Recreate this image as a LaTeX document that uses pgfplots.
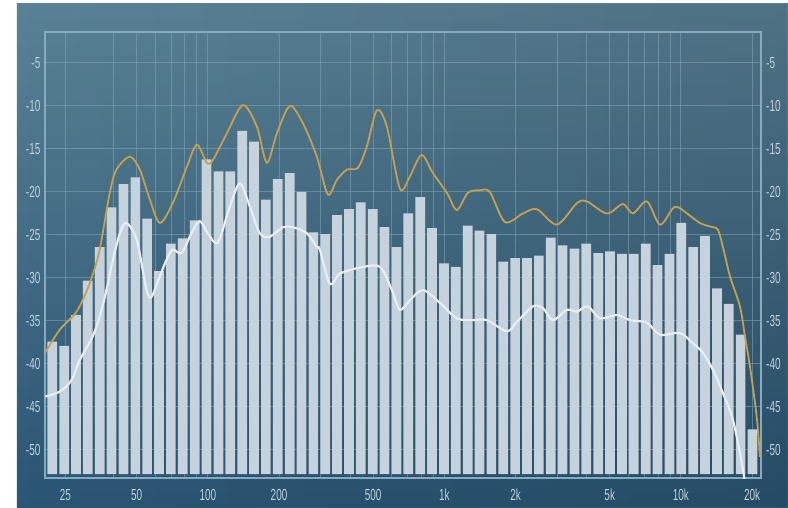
\documentclass[border=0pt]{standalone}
\usepackage{fontspec}
\usepackage{pgfplots}
\pgfplotsset{compat=1.18}
\usetikzlibrary{fadings}
\newfontfamily\lblfont{Liberation Sans}[FakeStretch=0.62]

\definecolor{bgtop}{RGB}{90,130,150}
\definecolor{bgbot}{RGB}{42,85,115}
\definecolor{barcol}{RGB}{198,210,220}
\definecolor{peakcol}{RGB}{198,160,78}
\definecolor{avgcol}{RGB}{232,238,243}
\definecolor{gridcol}{RGB}{130,166,186}
\definecolor{framecol}{RGB}{135,170,192}
\definecolor{labcol}{RGB}{192,210,222}

% 1/6-octave band levels (dB)
\pgfplotstableread{
f      db
22.0   -37.4
24.7   -37.9
27.7   -34.3
31.1   -30.3
34.9   -26.4
39.2   -21.8
44.0   -19.1
49.4   -18.3
55.4   -23.1
62.2   -29.2
69.8   -26.0
78.4   -25.4
88.0   -23.3
98.8   -16.2
110.9  -17.6
124.5  -17.6
139.7  -12.9
156.8  -14.15
176.0  -20.9
197.6  -18.5
221.8  -17.8
248.9  -20.0
279.4  -24.7
313.6  -24.9
352.0  -22.7
395.1  -22.0
443.5  -21.2
497.8  -22.0
558.8  -24.1
627.2  -26.4
704.0  -22.5
790.2  -20.6
887.0  -24.2
995.6  -28.3
1117.5 -28.7
1254.4 -23.9
1408.0 -24.5
1580.4 -24.9
1774.0 -28.1
1991.2 -27.7
2235.0 -27.7
2508.7 -27.4
2816.0 -25.3
3160.9 -26.2
3548.0 -26.6
3982.5 -26.0
4470.0 -27.1
5017.0 -26.9
5632.0 -27.2
6322.0 -27.2
7096.0 -26.0
7965.0 -28.5
8940.0 -27.2
10035  -23.6
11264  -26.4
12643  -25.1
14191  -31.2
15929  -33.0
17880  -36.6
20070  -47.6
}\bands

% peak-hold curve
\pgfplotstableread{
f      db
20.5   -38.7
23.7   -36.0
27.9   -33.9
31.7   -30.6
34.9   -26.7
38.5   -20.1
41.1   -17.4
46.8   -15.9
51.6   -17.4
56.9   -20.9
62.7   -23.6
71.1   -21.3
81.5   -17.1
89.9   -14.5
99.0   -16.6
105.0  -16.3
120.3  -13.2
140.6  -9.9
161.2  -12.4
177.6  -16.6
195.8  -13.2
222.2  -10.0
252.2  -12.0
289.0  -15.9
321.7  -20.3
351.2  -18.6
387.1  -17.4
430.8  -17.2
470.2  -14.7
518.4  -10.5
571.4  -12.4
648.4  -19.6
714.7  -18.2
800.9  -15.7
894.2  -17.8
1025   -20.1
1129   -22.1
1257   -20.1
1413   -19.8
1557   -20.0
1803   -23.5
2147   -22.5
2461   -22.0
2991   -23.8
3634   -21.3
4005   -21.1
4865   -22.5
5685   -21.4
6266   -22.5
7182   -21.1
8153   -23.8
9252   -21.9
9904   -21.9
12030  -23.6
13660  -24.1
14340  -24.4
15050  -26.4
16120  -29.8
17760  -33.3
18650  -36.8
19580  -40.3
20900  -46.1
21580  -50.8
}\peak

% average curve
\pgfplotstableread{
f      db
20.5   -43.8
23.7   -43.2
26.5   -41.9
28.8   -39.5
32.6   -36.8
34.9   -34.5
37.3   -31.4
39.7   -27.9
42.5   -24.8
45.3   -23.6
50.1   -25.6
55.1   -31.4
57.8   -32.2
62.7   -29.8
66.9   -27.9
71.1   -26.7
77.4   -27.1
85.3   -24.8
92.5   -23.4
100.0  -24.8
110.2  -25.9
123.9  -21.7
136.6  -19.0
150.5  -21.7
165.9  -24.8
182.9  -25.2
207.6  -24.1
228.8  -24.1
262.2  -24.8
289.0  -26.4
297.6  -26.7
328.1  -30.7
361.6  -29.5
439.3  -28.8
533.8  -28.7
599.8  -31.4
648.4  -33.7
714.7  -32.6
811.1  -31.4
957.2  -32.9
1129   -34.7
1320   -34.9
1513   -34.9
1838   -36.2
2026   -35.1
2367   -33.3
2610   -33.5
2876   -34.9
3296   -33.7
3634   -33.9
4045   -33.3
4545   -34.7
5362   -34.3
6086   -34.9
7182   -35.2
8153   -36.6
9904   -36.4
11240  -37.6
12390  -38.7
13660  -40.7
15050  -43.4
16590  -46.5
18290  -52.3
19580  -58.0
}\avg

\begin{document}
\begin{tikzpicture}[x=1pt,y=1pt]
  % panel
  \path[use as bounding box] (-45,-29) rectangle (743,478);
  \fill[white] (-45,-29) rectangle (743,478);
  \shade[top color=bgtop, bottom color=bgbot] (-28,-29) rectangle (743,474);
  \fill[black, path fading=west, fill opacity=0.12] (-28,-29) rectangle (743,474);

  \begin{axis}[
    at={(0,0)}, anchor=south west,
    scale only axis, width=716pt, height=446pt,
    xmode=log, xmin=20.5, xmax=21800,
    ymin=-53.26, ymax=-1.4,
    y coord trafo/.code={\pgfmathparse{#1+52.8}},
    y coord inv trafo/.code={\pgfmathparse{#1-52.8}},
    xtick={25,50,100,200,500,1000,2000,5000,10000,20000},
    xticklabels={25,50,100,200,500,1k,2k,5k,10k,20k},
    minor xtick={40,60,70,80,90,300,400,600,700,800,900,3000,4000,6000,7000,8000,9000},
    ytick={-50,-45,-40,-35,-30,-25,-20,-15,-10,-5},
    yticklabels={-50,-45,-40,-35,-30,-25,-20,-15,-10,-5},
    major tick length=0pt, minor tick length=0pt,
    grid=both,
    major grid style={draw=gridcol, line width=1pt, opacity=0.55},
    minor grid style={draw=gridcol, line width=1pt, opacity=0.55},
    axis line style={draw=framecol, line width=1.5pt},
    ticklabel style={font=\lblfont\fontsize{16}{16}\selectfont, text=labcol, inner sep=0pt},
    yticklabel style={xshift=-4.5pt},
    xticklabel style={yshift=-11pt},
  ]
    \addplot[ybar, bar width=9.7pt, fill=barcol, draw=none] table[x=f, y=db] {\bands};
    \addplot[smooth, draw=peakcol, line width=1.8pt] table[x=f, y=db] {\peak};
    \addplot[smooth, draw=avgcol, line width=2.2pt] table[x=f, y=db] {\avg};
  \end{axis}

  % dB scale repeated on the right-hand side
  \begin{axis}[
    at={(0,0)}, anchor=south west,
    scale only axis, width=716pt, height=446pt,
    xmode=log, xmin=20.5, xmax=21800,
    ymin=-53.26, ymax=-1.4,
    xtick=\empty,
    ytick={-50,-45,-40,-35,-30,-25,-20,-15,-10,-5},
    yticklabels={-50,-45,-40,-35,-30,-25,-20,-15,-10,-5},
    yticklabel pos=right,
    major tick length=0pt,
    axis line style={draw=none},
    ticklabel style={font=\lblfont\fontsize{16}{16}\selectfont, text=labcol, inner sep=0pt},
    yticklabel style={xshift=5pt},
  ]
  \end{axis}
\end{tikzpicture}
\end{document}
